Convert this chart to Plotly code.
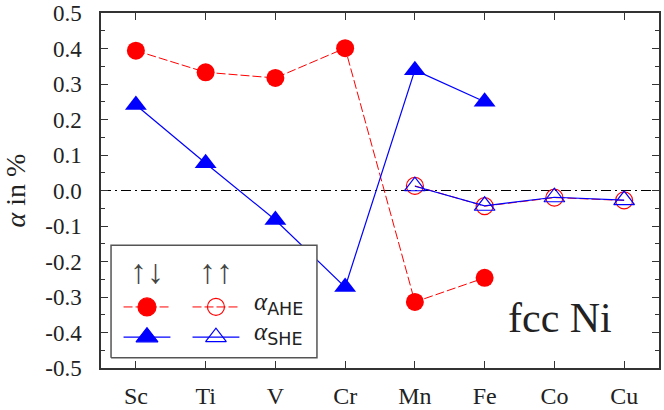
import plotly.graph_objects as go

# categories (3d impurities in fcc Ni)
elements = ['Sc', 'Ti', 'V', 'Cr', 'Mn', 'Fe', 'Co', 'Cu']

# antiparallel (up-down) configuration
ahe_anti = [0.394, 0.333, 0.317, 0.401, -0.314, -0.246]
she_anti = [0.241, 0.077, -0.083, -0.272, 0.339, 0.250]
anti_elements = elements[:6]

# parallel (up-up) configuration
ahe_par = [0.013, -0.044, -0.020, -0.028]
she_par = [0.012, -0.043, -0.019, -0.027]
par_elements = elements[4:]

y_ticks = [0.5, 0.4, 0.3, 0.2, 0.1, 0.0, -0.1, -0.2, -0.3, -0.4, -0.5]
y_minor = [0.45, 0.35, 0.25, 0.15, 0.05, -0.05, -0.15, -0.25, -0.35, -0.45]

RED = '#ff0000'
BLUE = '#0000ff'
FRAME = '#333333'
SERIF = 'Liberation Serif, Times New Roman, serif'

fig = go.Figure()

# zero reference line
fig.add_shape(type='line', xref='paper', x0=0, x1=1, yref='y', y0=0, y1=0,
              line=dict(color='black', width=1, dash='10px,4px,2px,4px'),
              layer='below')

fig.add_trace(go.Scatter(
    x=anti_elements, y=ahe_anti, mode='lines+markers',
    line=dict(color=RED, width=1, dash='9px,3px'),
    marker=dict(symbol='circle', size=18, color=RED),
    showlegend=False
))
fig.add_trace(go.Scatter(
    x=anti_elements, y=she_anti, mode='lines+markers',
    line=dict(color=BLUE, width=1.2),
    marker=dict(symbol='triangle-up', size=19, color=BLUE),
    showlegend=False
))
fig.add_trace(go.Scatter(
    x=par_elements, y=ahe_par, mode='lines+markers',
    line=dict(color=RED, width=1, dash='9px,3px'),
    marker=dict(symbol='circle-open', size=17, color=RED, line=dict(width=1.2)),
    showlegend=False
))
fig.add_trace(go.Scatter(
    x=par_elements, y=she_par, mode='lines+markers',
    line=dict(color=BLUE, width=1.2),
    marker=dict(symbol='triangle-up-open', size=18, color=BLUE, line=dict(width=1.2)),
    showlegend=False
))

# hand made legend on an overlay axis in plot-area fractions
box_x = [0.018, 0.387, 0.387, 0.018, 0.018]
box_y = [0.029, 0.029, 0.346, 0.346, 0.029]
fig.add_trace(go.Scatter(
    x=box_x, y=box_y, xaxis='x2', yaxis='y2', mode='lines',
    fill='toself', fillcolor='white', line=dict(color='#555555', width=1.5),
    hoverinfo='skip', showlegend=False
))

row_ahe, row_she = 0.172, 0.087
col_anti, col_par = 0.0824, 0.206
half = 0.042
legend_rows = [
    (row_ahe, RED, dict(dash='9px,3px', width=1), 'circle', 'circle-open', 18, 17),
    (row_she, BLUE, dict(width=1.2), 'triangle-up', 'triangle-up-open', 19, 18),
]
for yy, col, ln, sym_f, sym_o, s_f, s_o in legend_rows:
    for xc, sym, sz in [(col_anti, sym_f, s_f), (col_par, sym_o, s_o)]:
        fig.add_trace(go.Scatter(
            x=[xc - half, xc + half], y=[yy, yy], xaxis='x2', yaxis='y2',
            mode='lines', line=dict(color=col, **ln),
            hoverinfo='skip', showlegend=False
        ))
        fig.add_trace(go.Scatter(
            x=[xc], y=[yy], xaxis='x2', yaxis='y2', mode='markers',
            marker=dict(symbol=sym, size=sz, color=col, line=dict(width=1.2, color=col)),
            hoverinfo='skip', showlegend=False
        ))

for xc, txt in [(col_anti, '↑↓'), (col_par, '↑↑')]:
    fig.add_annotation(x=xc, y=0.272, xref='paper', yref='paper', text=txt,
                       xanchor='center', yanchor='middle', showarrow=False,
                       font=dict(family=SERIF, size=34, color='#444444'))

sans_sub = "<sub><span style='font-family:DejaVu Sans'>%s</span></sub>"
for yy, name in [(row_ahe, 'AHE'), (row_she, 'SHE')]:
    fig.add_annotation(x=0.27, y=yy + 0.01, xref='paper', yref='paper',
                       xanchor='left', yanchor='middle',
                       text='<i>α</i>' + sans_sub % name, showarrow=False,
                       font=dict(family=SERIF, size=25, color='#222222'))

fig.add_annotation(x=0.823, y=0.14, xref='paper', yref='paper', text='fcc Ni',
                   xanchor='center', yanchor='middle', showarrow=False,
                   font=dict(family=SERIF, size=42, color='#222222'))

fig.update_layout(
    width=664, height=410,
    margin=dict(l=101, r=5, t=13, b=42),
    plot_bgcolor='white', paper_bgcolor='white',
    font=dict(family=SERIF, size=23, color='#222222'),
    xaxis=dict(
        type='category', categoryorder='array', categoryarray=elements,
        range=[-0.5, 7.5], showgrid=False, zeroline=False, automargin=False,
        showline=True, linecolor=FRAME, linewidth=1.5, mirror='ticks',
        ticks='inside', ticklen=7, tickcolor=FRAME, tickwidth=1,
        tickfont=dict(size=24), ticklabelstandoff=5
    ),
    yaxis=dict(
        range=[-0.5, 0.5], showgrid=False, zeroline=False, automargin=False,
        tickmode='array', tickvals=y_ticks,
        ticktext=['%.1f' % v if v >= 0 else '-%.1f' % abs(v) for v in y_ticks],
        showline=True, linecolor=FRAME, linewidth=1.5, mirror='ticks',
        ticks='inside', ticklen=7, tickcolor=FRAME, tickwidth=1,
        minor=dict(tickmode='array', tickvals=y_minor, ticks='inside',
                   ticklen=4, tickcolor=FRAME),
        ticklabelstandoff=13, ticklabeloverflow='allow',
        title=dict(text='<i>α</i> in %', font=dict(size=28), standoff=12)
    ),
    xaxis2=dict(overlaying='x', anchor='y2', range=[0, 1], visible=False, fixedrange=True),
    yaxis2=dict(overlaying='y', anchor='x2', range=[0, 1], visible=False, fixedrange=True),
    showlegend=False
)

# drop the default 8px page margin so the figure fills the window exactly
fig.write_html('out.html', config={'displayModeBar': False},
               post_script="document.body.style.margin = '0';")
